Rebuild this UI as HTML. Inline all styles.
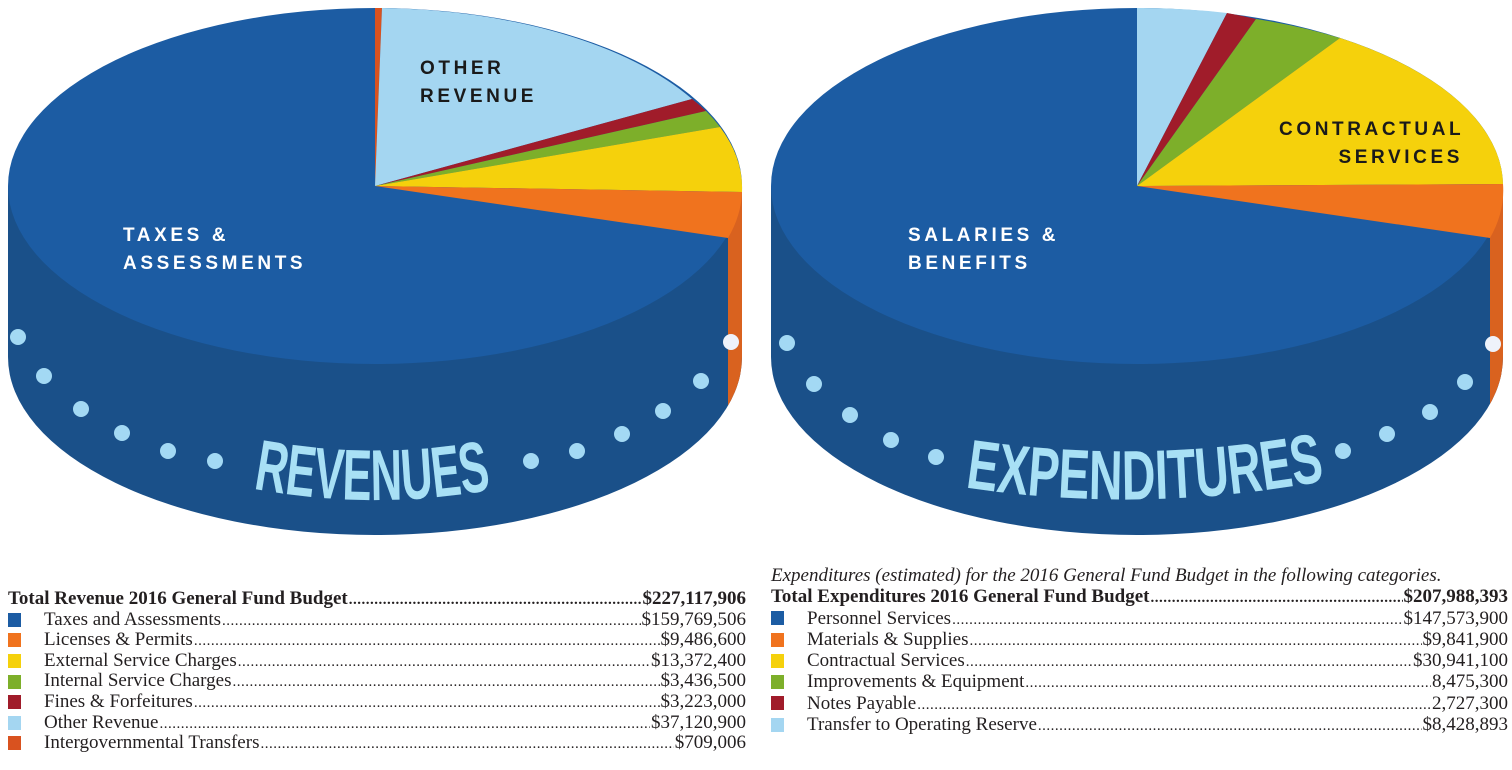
<!DOCTYPE html>
<html><head><meta charset="utf-8"><style>
html,body{margin:0;padding:0;background:#fff;}
body{width:1512px;height:770px;position:relative;overflow:hidden;font-family:"Liberation Serif",serif;}
svg{position:absolute;left:0;top:0;}
.lg{position:absolute;font-size:19px;line-height:20.6px;color:#231f20;}
.row{display:flex;align-items:baseline;height:20.6px;white-space:nowrap;}
.row .sq{width:13px;height:14px;display:inline-block;margin-right:23px;flex:none;align-self:center;}
.row .dots{flex:1;overflow:hidden;margin:0 1px;}
.row .dots:after{content:"..............................................................................................................................................................................................................................................";letter-spacing:0.5px;font-size:15px;}
.b{font-weight:bold;}
</style></head><body>
<svg width="1512" height="770" viewBox="0 0 1512 770">
<defs>
<clipPath id="sideL"><path d="M8,186 L8,357 A367,178 0 0 0 742,357 L742,186 Z"/></clipPath>
<clipPath id="sideR"><path d="M771,186 L771,357 A366,178 0 0 0 1503,357 L1503,186 Z"/></clipPath>
</defs>
<!-- LEFT PIE -->
<path d="M8,186 L8,357 A367,178 0 0 0 742,357 L742,186 Z" fill="#1a5089"/>
<rect x="728" y="186" width="16" height="240" fill="#d9621f" clip-path="url(#sideL)"/>
<ellipse cx="375" cy="186" rx="367" ry="178" fill="#1c5ca3"/>
<path d="M375,186 L375,8 A367,178 0 0 1 382,8 Z" fill="#d9521f"/>
<path d="M375,186 L382,8 A367,178 0 0 1 692,99 Z" fill="#a4d6f1"/>
<path d="M375,186 L692,99 A367,178 0 0 1 706,111 Z" fill="#a01c2a"/>
<path d="M375,186 L706,111 A367,178 0 0 1 720,127 Z" fill="#7daf2a"/>
<path d="M375,186 L720,127 A367,178 0 0 1 742,192 Z" fill="#f5d10c"/>
<path d="M375,186 L742,192 A367,178 0 0 1 728,238 Z" fill="#f0731e"/>
<g fill="#a3d9f4">
<circle cx="18" cy="337" r="8"/><circle cx="44" cy="376" r="8"/><circle cx="81" cy="409" r="8"/><circle cx="122" cy="433" r="8"/><circle cx="168" cy="451" r="8"/><circle cx="215" cy="461" r="8"/>
<circle cx="531" cy="461" r="8"/><circle cx="577" cy="451" r="8"/><circle cx="622" cy="434" r="8"/><circle cx="663" cy="411" r="8"/><circle cx="701" cy="381" r="8"/>
</g>
<circle cx="731" cy="342" r="8" fill="#eef2fa"/>
<path id="arcL" d="M250,488 Q375,512 500,488" fill="none"/>
<text font-family="Liberation Sans Narrow, Liberation Sans, sans-serif" font-weight="bold" font-size="72" fill="#a8e0f5"><textPath href="#arcL" textLength="240" lengthAdjust="spacingAndGlyphs" startOffset="3">REVENUES</textPath></text>
<g font-family="Liberation Sans, sans-serif" font-weight="bold" font-size="19" letter-spacing="3.6">
<text x="123" y="241" fill="#fff">TAXES &amp;</text>
<text x="123" y="269" fill="#fff">ASSESSMENTS</text>
<text x="420" y="74" fill="#1a1a1a">OTHER</text>
<text x="420" y="102" fill="#1a1a1a">REVENUE</text>
</g>
<!-- RIGHT PIE -->
<path d="M771,186 L771,357 A366,178 0 0 0 1503,357 L1503,186 Z" fill="#1a5089"/>
<rect x="1490" y="186" width="14" height="240" fill="#d9621f" clip-path="url(#sideR)"/>
<ellipse cx="1137" cy="186" rx="366" ry="178" fill="#1c5ca3"/>
<path d="M1137,186 L1137,8 A366,178 0 0 1 1227,13 Z" fill="#a4d6f1"/>
<path d="M1137,186 L1227,13 A366,178 0 0 1 1256,19 Z" fill="#a01c2a"/>
<path d="M1137,186 L1256,19 A366,178 0 0 1 1340,38 Z" fill="#7daf2a"/>
<path d="M1137,186 L1340,38 A366,178 0 0 1 1503,184 Z" fill="#f5d10c"/>
<path d="M1137,186 L1503,184 A366,178 0 0 1 1490,238 Z" fill="#f0731e"/>
<g fill="#a3d9f4">
<circle cx="787" cy="343" r="8"/><circle cx="814" cy="384" r="8"/><circle cx="850" cy="415" r="8"/><circle cx="891" cy="440" r="8"/><circle cx="936" cy="457" r="8"/>
<circle cx="1343" cy="451" r="8"/><circle cx="1387" cy="434" r="8"/><circle cx="1430" cy="412" r="8"/><circle cx="1465" cy="382" r="8"/>
</g>
<circle cx="1493" cy="344" r="8" fill="#eef2fa"/>
<path id="arcR" d="M962,487 Q1145,515 1328,480" fill="none"/>
<text font-family="Liberation Sans Narrow, Liberation Sans, sans-serif" font-weight="bold" font-size="70" fill="#a8e0f5"><textPath href="#arcR" textLength="362" lengthAdjust="spacingAndGlyphs" startOffset="3">EXPENDITURES</textPath></text>
<g font-family="Liberation Sans, sans-serif" font-weight="bold" font-size="19" letter-spacing="3.6">
<text x="908" y="241" fill="#fff">SALARIES &amp;</text>
<text x="908" y="269" fill="#fff">BENEFITS</text>
<text x="1279" y="135" fill="#1a1a1a">CONTRACTUAL</text>
<text x="1463" y="163" fill="#1a1a1a" text-anchor="end">SERVICES</text>
</g>
</svg>

<div class="lg" style="left:8px;top:589px;width:738px;">
<div class="row b"><span>Total Revenue 2016 General Fund Budget</span><span class="dots"></span><span>$227,117,906</span></div>
<div class="row"><span class="sq" style="background:#1c5ca3"></span><span>Taxes and Assessments</span><span class="dots"></span><span>$159,769,506</span></div>
<div class="row"><span class="sq" style="background:#f0731e"></span><span>Licenses &amp; Permits</span><span class="dots"></span><span>$9,486,600</span></div>
<div class="row"><span class="sq" style="background:#f5d10c"></span><span>External Service Charges</span><span class="dots"></span><span>$13,372,400</span></div>
<div class="row"><span class="sq" style="background:#7daf2a"></span><span>Internal Service Charges</span><span class="dots"></span><span>$3,436,500</span></div>
<div class="row"><span class="sq" style="background:#a01c2a"></span><span>Fines &amp; Forfeitures</span><span class="dots"></span><span>$3,223,000</span></div>
<div class="row"><span class="sq" style="background:#a4d6f1"></span><span>Other Revenue</span><span class="dots"></span><span>$37,120,900</span></div>
<div class="row"><span class="sq" style="background:#d9521f"></span><span>Intergovernmental Transfers</span><span class="dots"></span><span>$709,006</span></div>
</div>

<div class="lg" style="left:771px;top:565px;width:737px;line-height:21.3px;">
<div class="row" style="font-style:italic;height:21.3px"><span>Expenditures (estimated) for the 2016 General Fund Budget in the following categories.</span></div>
<div class="row b" style="height:21.3px"><span>Total Expenditures 2016 General Fund Budget</span><span class="dots"></span><span>$207,988,393</span></div>
<div class="row" style="height:21.3px"><span class="sq" style="background:#1c5ca3"></span><span>Personnel Services</span><span class="dots"></span><span>$147,573,900</span></div>
<div class="row" style="height:21.3px"><span class="sq" style="background:#f0731e"></span><span>Materials &amp; Supplies</span><span class="dots"></span><span>$9,841,900</span></div>
<div class="row" style="height:21.3px"><span class="sq" style="background:#f5d10c"></span><span>Contractual Services</span><span class="dots"></span><span>$30,941,100</span></div>
<div class="row" style="height:21.3px"><span class="sq" style="background:#7daf2a"></span><span>Improvements &amp; Equipment</span><span class="dots"></span><span>8,475,300</span></div>
<div class="row" style="height:21.3px"><span class="sq" style="background:#a01c2a"></span><span>Notes Payable</span><span class="dots"></span><span>2,727,300</span></div>
<div class="row" style="height:21.3px"><span class="sq" style="background:#a4d6f1"></span><span>Transfer to Operating Reserve</span><span class="dots"></span><span>$8,428,893</span></div>
</div>
</body></html>
